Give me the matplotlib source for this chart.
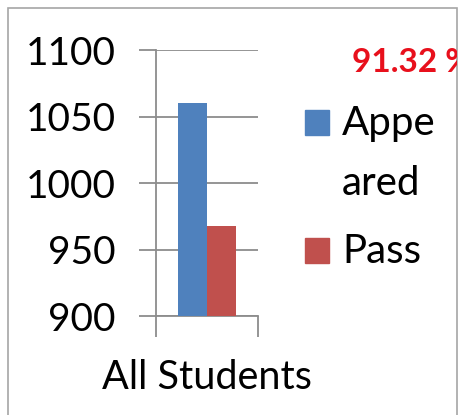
import matplotlib.pyplot as plt
from matplotlib.patches import Rectangle

plt.rcParams['font.family'] = ['Lato', 'DejaVu Sans']

category = 'All Students'
series = ['Appe\nared', 'Pass']
values = [1060, 968]
colors = ['#4f81bd', '#c0504d']
pass_pct = '91.32 %'
yticks = [900, 950, 1000, 1050, 1100]

W, H = 459, 415
fig = plt.figure(figsize=(W / 100, H / 100), dpi=100)
ax = fig.add_axes([156 / W, 1 - 316 / H, 102 / W, 266 / H])

w = 0.28
for i, (name, v, c) in enumerate(zip(series, values, colors)):
    ax.bar(0.5 + (i - 0.5) * w, v - 900, bottom=900, width=w, color=c, label=name, zorder=3)

ax.set_xlim(0, 1)
ax.set_ylim(900, 1100)
ax.set_yticks(yticks)
ax.tick_params(axis='y', length=12, color='#8c8c8c', width=1.3, labelsize=28, pad=17)
ax.grid(axis='y', color='#8c8c8c', linewidth=1.3, zorder=0)

ax.set_xticks([0.5], [category])
ax.set_xticks([0, 1], minor=True)
ax.tick_params(axis='x', which='major', length=0, labelsize=28.5, pad=31)
ax.tick_params(axis='x', which='minor', length=15, color='#8c8c8c', width=1.3)

for s in ['top', 'right']:
    ax.spines[s].set_visible(False)
for s in ['left', 'bottom']:
    ax.spines[s].set_color('#8c8c8c')
    ax.spines[s].set_linewidth(1.3)

# legend drawn by hand: square sits next to the first line of a wrapped label
leg_y = [110, 238]
for name, c, y in zip(series, colors, leg_y):
    fig.patches.append(Rectangle((305 / W, 1 - (y + 25) / H), 24 / W, 25 / H,
                                 transform=fig.transFigure, color=c))
    for k, part in enumerate(name.split('\n')):
        fig.text(342 / W, 1 - (y + 25 + 60 * k) / H, part, fontsize=29,
                 va='baseline', ha='left')

# outer frame
frame = Rectangle((8 / W, -0.1), 449 / W, 1.1 - 8 / H, transform=fig.transFigure,
                  fill=False, edgecolor='#a6a6a6', linewidth=1.2)
fig.patches.append(frame)

# percentage runs past the frame in the original, so clip it there
t = fig.text(352 / W, 1 - 62 / H, pass_pct, color='#e8101c', fontsize=24,
             fontweight='bold', va='center', ha='left')
t.set_clip_path(frame)

fig.savefig('out.png', dpi=100)
